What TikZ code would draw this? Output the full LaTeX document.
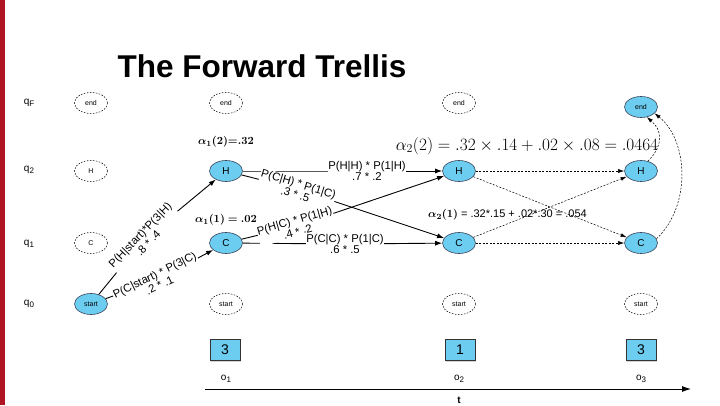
\documentclass[tikz,border=0pt]{standalone}
\usepackage{bm}
\usepackage[no-math]{fontspec}
\setmainfont{Liberation Sans}
\usetikzlibrary{shapes.geometric,arrows.meta,shadows}
\definecolor{nodeblue}{RGB}{108,205,240}
\definecolor{redbar}{RGB}{175,20,35}
\definecolor{nodeline}{RGB}{60,70,90}
\begin{document}
\begin{tikzpicture}[x=1pt,y=1pt,
  st/.style={ellipse, minimum width=33pt, minimum height=21pt, inner sep=0pt, font=\fontsize{10}{10}\selectfont},
  live/.style={st, draw=nodeline, fill=nodeblue, line width=0.6pt},
  ghost/.style={st, draw=black, dash pattern=on 1.6pt off 1.4pt, line width=0.5pt},
  tiny/.style={font=\fontsize{7}{7}\selectfont},
  rowlab/.style={font=\fontsize{10}{10}\selectfont},
  alab/.style={font=\fontsize{11}{13}\selectfont},
  elab/.style={fill=white, inner sep=0.6pt, align=center, font=\fontsize{11.3}{11.5}\selectfont},
  solidarrow/.style={-{Latex[length=7pt,width=5pt]}, line width=0.9pt},
  dasharrow/.style={-{Latex[length=6pt,width=4pt]}, line width=0.5pt, dash pattern=on 2pt off 1.5pt},
  obsbox/.style={draw=black!80, fill=nodeblue, minimum width=30pt, minimum height=21pt, inner sep=0pt,
     font=\fontsize{14}{14}\selectfont, drop shadow={opacity=0.35, shadow xshift=1.2pt, shadow yshift=-1.2pt}}
]
\useasboundingbox (0,0) rectangle (720,405);
\fill[redbar] (0,0) rectangle (5,405);

\node[anchor=base, font=\fontsize{31.5}{34}\selectfont\bfseries] (title) at (262,327) {The Forward Trellis};

% row labels
\node[rowlab] (qF) at (29,302) {q\raisebox{-0.4ex}{\footnotesize F}};
\node[rowlab] (q2) at (29,235) {q\raisebox{-0.4ex}{\footnotesize 2}};
\node[rowlab] (q1) at (29,161) {q\raisebox{-0.4ex}{\footnotesize 1}};
\node[rowlab] (q0) at (29,101) {q\raisebox{-0.4ex}{\footnotesize 0}};

% column 0
\node[ghost, tiny] (E0) at (91,302) {end};
\node[ghost, tiny] (H0) at (91,234) {H};
\node[ghost, tiny] (C0) at (91,162) {C};
\node[live, tiny] (S0) at (91,101) {start};
% column 1
\node[ghost, tiny] (E1) at (226,302) {end};
\node[live] (H1) at (226,234) {H};
\node[live] (C1) at (226,162) {C};
\node[ghost, tiny] (S1) at (226,101) {start};
% column 2
\node[ghost, tiny] (E2) at (459,302) {end};
\node[live] (H2) at (459,234) {H};
\node[live] (C2) at (459,162) {C};
\node[ghost, tiny] (S2) at (459,101) {start};
% column 3
\node[live, tiny] (E3) at (641,298) {end};
\node[live] (H3) at (641,234) {H};
\node[live] (C3) at (641,162) {C};
\node[ghost, tiny] (S3) at (641,101) {start};

% alpha labels
\node[alab] (a12) at (226,263) {$\bm{\alpha_1(2){=}.32}$};
\node[alab] (a11) at (226,185) {$\bm{\alpha_1(1) = .02}$};
\node[font=\fontsize{16.8}{20}\selectfont] (a22) at (527,259) {$\alpha_2(2) = .32\times.14+.02\times.08=.0464$};
\node[alab, anchor=west, inner sep=0pt] (a21) at (428,190) {$\bm{\alpha_2(1)}$ = .32*.15 + .02*.30 = .054};

% label anchor points
\coordinate (cHH) at (367,234);
\coordinate (cCC) at (345,161);
\coordinate (cSH) at (144,166);
\coordinate (cSC) at (157,125);
\coordinate (cHC) at (297,216);
\coordinate (cCH) at (296,179);

% solid edges (lines first, through the label points)
\draw[solidarrow] (H1) -- (cHH) -- (H2);
\draw[solidarrow] (C1) -- (cCC) -- (C2);
\draw[solidarrow] (S0) -- (cSH) -- (H1);
\draw[solidarrow] (S0) -- (cSC) -- (C1);
\draw[solidarrow] (H1) -- (cHC) -- (C2);
\draw[solidarrow] (C1) -- (cCH) -- (H2);
% labels on top
\node[elab, rotate=46] (lSH) at (cSH) {P(H|start)*P(3|H)\\.8 * .4};
\node[elab, rotate=26] (lSC) at (cSC) {P(C|start) * P(3|C)\\.2 * .1};
\node[elab, rotate=-17] (lHC) at (cHC) {P(C|H) * P(1|C)\\.3 * .5};
\node[elab, rotate=16] (lCH) at (cCH) {P(H|C) * P(1|H)\\.4 * .2};
\node[elab] (lHH) at (cHH) {P(H|H) * P(1|H)\\.7 * .2};
\node[elab] (lCC) at (cCC) {P(C|C) * P(1|C)\\.6 * .5};

% dashed edges
\draw[dasharrow] (H2) -- (H3);
\draw[dasharrow] (H2) -- (C3);
\draw[dasharrow] (C2) -- (H3);
\draw[dasharrow] (C2) -- (C3);
\draw[dasharrow] (H3.55) .. controls (664,260) and (662,275) .. (E3.-60);
\draw[dasharrow] (C3.15) .. controls (692,200) and (688,265) .. (E3.-25);

% observations
\node[obsbox] (o1box) at (225,55) {3};
\node[obsbox] (o2box) at (460,55) {1};
\node[obsbox] (o3box) at (641,55) {3};
\node[rowlab] (o1) at (226,26) {o\raisebox{-0.4ex}{\footnotesize 1}};
\node[rowlab] (o2) at (459,26) {o\raisebox{-0.4ex}{\footnotesize 2}};
\node[rowlab] (o3) at (641,26) {o\raisebox{-0.4ex}{\footnotesize 3}};

% time axis
\coordinate (ax0) at (205,16);
\coordinate (ax1) at (691,16);
\draw[-{Latex[length=9pt,width=6pt]}, line width=0.9pt] (ax0) -- (ax1);
\node[font=\fontsize{10}{10}\selectfont\bfseries] (t) at (459,5) {t};
\end{tikzpicture}
\end{document}
